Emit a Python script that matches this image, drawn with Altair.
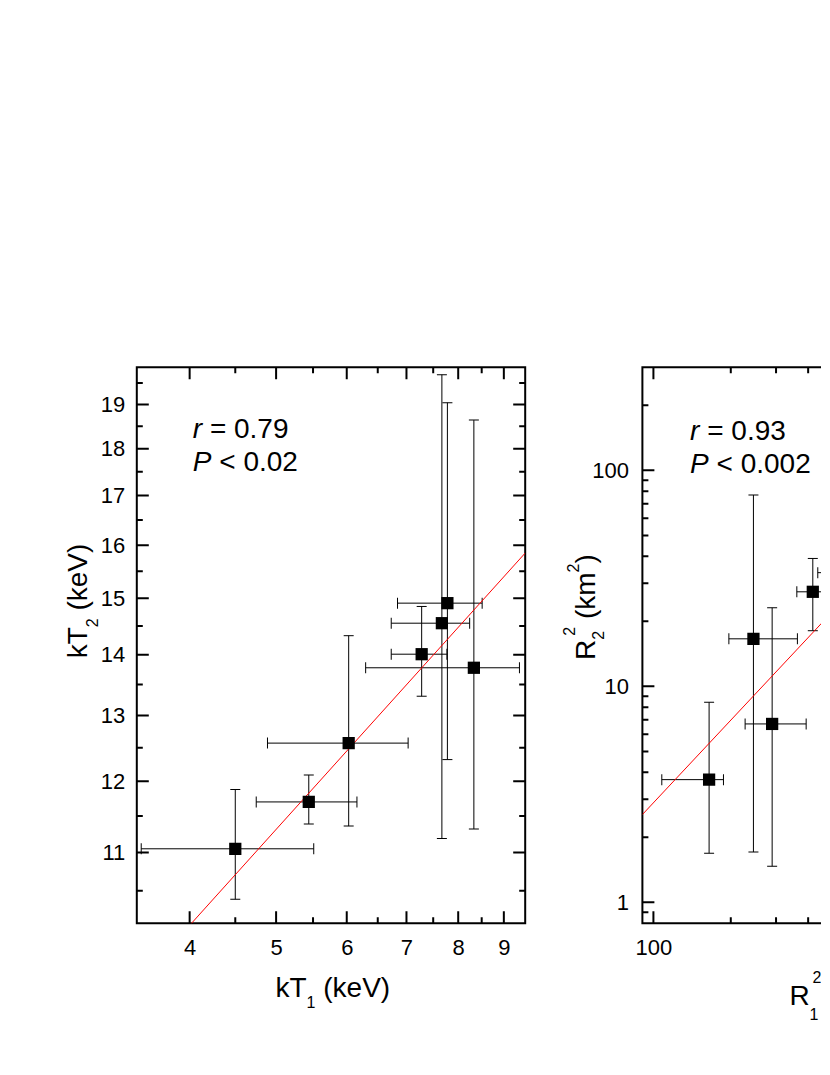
import altair as alt
import pandas as pd

FONT = "Liberation Sans"

# ---------------- Left panel: kT1 vs kT2 (keV) ----------------
kt1 = [4.50, 5.44, 6.03, 7.28, 7.67, 7.78, 8.33]
kt1_lo = [3.53, 4.75, 4.89, 6.73, 6.73, 6.84, 6.30]
kt1_hi = [5.51, 6.16, 7.03, 7.77, 8.24, 8.51, 9.37]
kt2 = [11.05, 11.70, 12.57, 14.01, 14.55, 14.91, 13.78]
kt2_lo = [10.39, 11.39, 11.36, 13.31, 11.19, 12.32, 11.32]
kt2_hi = [11.88, 12.09, 14.33, 14.85, 19.70, 19.04, 18.64]
fit1_x = [3.49, 9.51]
fit1_y = [9.37, 15.85]

# ---------------- Right panel: R1^2 vs R2^2 (km^2) ----------------
r1 = [164.7, 245.0, 289.7, 417.0, 560.0]
r1_lo = [107.8, 196.6, 227.4, 361.4, 436.0]
r1_hi = [187.3, 363.3, 392.9, 520.0, 700.0]
r2 = [3.70, 16.6, 6.70, 27.4, 33.6]
r2_lo = [1.69, 1.71, 1.47, 18.1, 25.0]
r2_hi = [8.44, 76.9, 23.1, 39.1, 45.0]
fit2_x = [90.6, 2940.0]
fit2_y = [2.55, 212.0]

# ---------------- ticks and labels ----------------
kt1_major = [4, 5, 6, 7, 8, 9]
kt1_minor = [4.5, 5.5, 6.5, 7.5, 8.5]
kt2_major = [11, 12, 13, 14, 15, 16, 17, 18, 19]
kt2_minor = [10.5, 11.5, 12.5, 13.5, 14.5, 15.5, 16.5, 17.5, 18.5, 19.5]
r1_major = [100, 1000]
r1_labels = [100]
r1_minor = [200, 300, 400, 500, 600, 700, 800, 900, 2000]
r2_major = [1, 10, 100]
r2_minor = [0.9, 2, 3, 4, 5, 6, 7, 8, 9, 20, 30, 40, 50, 60, 70, 80, 90, 200]

stats1 = ("0.79", "0.02")
stats2 = ("0.93", "0.002")

W1, W2, H = 388.4, 388.4, 556
MAJ, MIN = 12, 6
LBL = 22
TFS, SFS = 28, 16

ADV = {'k': 500, 'T': 611, 'R': 722, '(': 333, ')': 333, 'e': 556, 'V': 667,
       'm': 833, ' ': 278, '=': 584, '<': 584, '.': 278, 'P': 667, 'r': 333}


def tw(s, fs):
    return sum(ADV.get(c, 556) for c in s) / 1000.0 * fs


dummy = pd.DataFrame({"d": [0]})


def rich(pieces, x0, y0, rotate=False):
    """pieces: (text, fontsize, baseline shift, italic, advance)"""
    out = []
    off = 0.0
    for txt, fs, shift, italic, adv in pieces:
        if rotate:
            px, py = x0 + shift, y0 - off
        else:
            px, py = x0 + off, y0 + shift
        mk = dict(text=txt, font=FONT, fontSize=fs, color="black",
                  align="left", baseline="alphabetic")
        if italic:
            mk["fontStyle"] = "italic"
        if rotate:
            mk["angle"] = 270
        out.append(alt.Chart(dummy).mark_text(**mk).encode(
            x=alt.value(px), y=alt.value(py)))
        off += adv
    return out


def stat_text(rv, pv, x0, y0, dy):
    sp = tw(" ", TFS)
    a = rich([("r", TFS, 0, True, tw("r", TFS) + sp), ("= " + rv, TFS, 0, False, 0)], x0, y0)
    b = rich([("P", TFS, 0, True, tw("P", TFS) + sp), ("< " + pv, TFS, 0, False, 0)], x0, y0 + dy)
    return a + b


def panel(df, fit, xdom, ydom, xmaj, xlab, xmin, ymaj, ymin, W, ypad, extra):
    xs = alt.Scale(type="log", domain=xdom, nice=False)
    ys = alt.Scale(type="log", domain=ydom, nice=False)
    xa = alt.Axis(values=xlab, format="~g", ticks=False, tickSize=0, domain=False, grid=False,
                  labelFont=FONT, labelFontSize=LBL, labelColor="black", labelPadding=14,
                  labelFlush=False, labelOverlap=False, title=None)
    ya = alt.Axis(values=ymaj, format="~g", ticks=False, tickSize=0, domain=False, grid=False,
                  labelFont=FONT, labelFontSize=LBL, labelColor="black", labelPadding=ypad,
                  labelFlush=False, labelOverlap=False, title=None)

    def X(f):
        return alt.X(f, type="quantitative", scale=xs, axis=xa, title=None)

    def Y(f):
        return alt.Y(f, type="quantitative", scale=ys, axis=ya, title=None)

    base = alt.Chart(df)
    rule = dict(color="black", strokeWidth=1, clip=True)
    tick = dict(thickness=1, color="black", opacity=1, clip=True)
    layers = [
        base.mark_rule(**rule).encode(x=X("xlo"), x2="xhi", y=Y("y")),
        base.mark_rule(**rule).encode(x=X("x"), y=Y("ylo"), y2="yhi"),
        base.mark_tick(orient="vertical", size=11, **tick).encode(x=X("xlo"), y=Y("y")),
        base.mark_tick(orient="vertical", size=11, **tick).encode(x=X("xhi"), y=Y("y")),
        base.mark_tick(orient="horizontal", size=10, **tick).encode(x=X("x"), y=Y("ylo")),
        base.mark_tick(orient="horizontal", size=10, **tick).encode(x=X("x"), y=Y("yhi")),
        alt.Chart(fit).mark_line(color="red", strokeWidth=1, clip=True).encode(x=X("x"), y=Y("y")),
        base.mark_square(size=150, color="black", opacity=1, clip=True).encode(x=X("x"), y=Y("y")),
    ]
    for vals, L in ((xmaj, MAJ), (xmin, MIN)):
        tdf = alt.Chart(pd.DataFrame({"v": vals})).mark_rule(color="black", strokeWidth=2, clip=True)
        layers.append(tdf.encode(x=X("v"), y=alt.value(H), y2=alt.value(H - L)))
        layers.append(tdf.encode(x=X("v"), y=alt.value(0), y2=alt.value(L)))
    for vals, L in ((ymaj, MAJ), (ymin, MIN)):
        tdf = alt.Chart(pd.DataFrame({"v": vals})).mark_rule(color="black", strokeWidth=2, clip=True)
        layers.append(tdf.encode(y=Y("v"), x=alt.value(0), x2=alt.value(L)))
        layers.append(tdf.encode(y=Y("v"), x=alt.value(W), x2=alt.value(W - L)))
    layers += extra
    return alt.layer(*layers).properties(width=W, height=H)


df1 = pd.DataFrame({"x": kt1, "xlo": kt1_lo, "xhi": kt1_hi, "y": kt2, "ylo": kt2_lo, "yhi": kt2_hi})
fdf1 = pd.DataFrame({"x": fit1_x, "y": fit1_y})
df2 = pd.DataFrame({"x": r1, "xlo": r1_lo, "xhi": r1_hi, "y": r2, "ylo": r2_lo, "yhi": r2_hi})
fdf2 = pd.DataFrame({"x": fit2_x, "y": fit2_y})

sp = tw(" ", TFS)
extra1 = stat_text(stats1[0], stats1[1], 56, 70.5, 33.2)
extra1 += rich([("kT", TFS, 0, False, tw("kT", TFS)), ("1", SFS, 11, False, tw("1", SFS) + sp),
                ("(keV)", TFS, 0, False, 0)], 138.7, 630)
extra1 += rich([("kT", TFS, 0, False, tw("kT", TFS)), ("2", SFS, 11, False, tw("2", SFS) + sp),
                ("(keV)", TFS, 0, False, 0)], -49.3, 291, rotate=True)

extra2 = stat_text(stats2[0], stats2[1], 47.7, 72.7, 33.3)
# x title of the right panel: only "R1^2" lies inside the visible window
extra2 += rich([("R", TFS, 0, False, tw("R", TFS)), ("1", SFS, 15, False, 3),
                ("2", SFS, -21.7, False, 0)], 147.0, 637.7)
extra2 += rich([("R", TFS, 0, False, tw("R", TFS)), ("2", SFS, 9, False, 4),
                ("2", SFS, -20, False, tw("2", SFS) + sp), ("(km", TFS, 0, False, tw("(km", TFS)),
                ("2", SFS, -16, False, tw("2", SFS)), (")", TFS, 0, False, 0)], -47.3, 292.7, rotate=True)

left = panel(df1, fdf1, [3.49, 9.51], [10.09, 19.88], kt1_major, kt1_major, kt1_minor,
             kt2_major, kt2_minor, W1, 12, extra1)
right = panel(df2, fdf2, [90.6, 2940.0], [0.8, 300.0], r1_major, r1_labels, r1_minor,
              r2_major, r2_minor, W2, 14, extra2)

chart = alt.hconcat(left, right, spacing=116.6, bounds="flush").properties(
    padding={"left": 55.8, "top": 358.3, "right": -211, "bottom": 0}
).configure_view(stroke="black", strokeWidth=2)

chart.save("out.html", embed_options={"renderer": "svg", "actions": False})
